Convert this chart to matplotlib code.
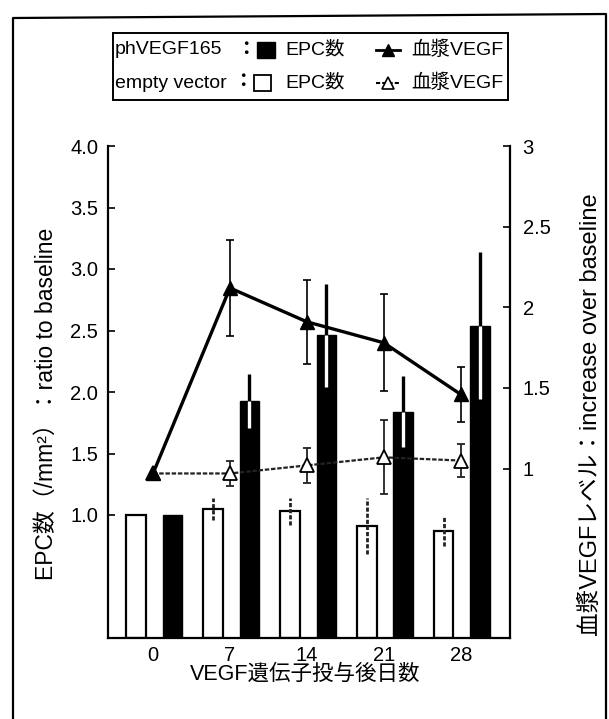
import matplotlib
matplotlib.use("Agg")
import matplotlib.pyplot as plt
from matplotlib.patches import Rectangle
from matplotlib.lines import Line2D
import numpy as np

plt.rcParams['font.family'] = ['Liberation Sans', 'Noto Sans CJK JP', 'DejaVu Sans']

days = ["0", "7", "14", "21", "28"]
# EPC count ratio (left axis)
epc_empty = [1.0, 1.05, 1.03, 0.91, 0.87]
epc_empty_err = [0.0, 0.09, 0.11, 0.23, 0.12]
epc_vegf = [1.0, 1.93, 2.46, 1.84, 2.54]
epc_vegf_err = [0.0, 0.22, 0.42, 0.29, 0.60]
# plasma VEGF increase (right axis)
pl_vegf = [0.97, 2.12, 1.91, 1.78, 1.46]
pl_vegf_err = [0.0, 0.30, 0.26, 0.30, 0.17]
pl_empty = [0.97, 0.97, 1.02, 1.07, 1.05]
pl_empty_err = [0.0, 0.08, 0.11, 0.23, 0.10]

left_ticks = [1.0, 1.5, 2.0, 2.5, 3.0, 3.5, 4.0]
right_ticks = [1, 1.5, 2, 2.5, 3]
right_ticklabels = ["1", "1.5", "2", "2.5", "3"]

W, H = 609, 719
fig = plt.figure(figsize=(W / 100, H / 100), dpi=100)

def fx(px):
    return px / W

def fy(py):
    return 1 - py / H

ax = fig.add_axes([fx(108), fy(638), fx(510) - fx(108), fy(146) - fy(638)])
ax2 = ax.twinx()

x = np.arange(len(days))
bw = 0.25
xw = x - 0.22
xb = x + 0.25

ax.bar(xw, epc_empty, width=bw, color='white', edgecolor='black', linewidth=1.6, zorder=2)
ax.bar(xb, epc_vegf, width=bw, color='black', edgecolor='black', linewidth=1.0, zorder=2)

for i in range(len(days)):
    if epc_empty_err[i] > 0:
        ax.vlines(xw[i], epc_empty[i] - epc_empty_err[i], epc_empty[i] + epc_empty_err[i],
                  colors='#222222', linewidth=2.0, linestyles=(0, (1.5, 0.7)), zorder=3)
    if epc_vegf_err[i] > 0:
        ax.vlines(xb[i], epc_vegf[i], epc_vegf[i] + epc_vegf_err[i],
                  colors='black', linewidth=2.4, zorder=3)
        ax.vlines(xb[i], epc_vegf[i] - epc_vegf_err[i], epc_vegf[i],
                  colors='white', linewidth=2.4, zorder=3)

ax.set_xlim(-0.585, 4.64)
ax.set_ylim(0, 4.0)
ax.set_yticks(left_ticks)
ax.set_yticklabels([f"{v:.1f}" for v in left_ticks])
ax.set_xticks(x)
ax.set_xticklabels(days)

ax2.set_ylim(-0.05, 3.0)
ax2.set_yticks(right_ticks)
ax2.set_yticklabels(right_ticklabels)

# plasma VEGF lines
ax2.errorbar(x, pl_empty, yerr=pl_empty_err, color='#222222', linewidth=1.6,
             linestyle=(0, (2.0, 0.8)), marker='^', markersize=10,
             markerfacecolor='white', markeredgecolor='black', markeredgewidth=1.3,
             ecolor='#222222', elinewidth=1.3, capsize=3, capthick=1.3, zorder=4)
ax2.errorbar(x, pl_vegf, yerr=pl_vegf_err, color='black', linewidth=2.4,
             marker='^', markersize=10, markerfacecolor='black', markeredgecolor='black',
             ecolor='black', elinewidth=1.2, capsize=3, capthick=1.2, zorder=5)

for a in (ax, ax2):
    a.spines['top'].set_visible(False)
    a.tick_params(direction='in', length=5, width=1.2, labelsize=14.5)
ax.spines['left'].set_linewidth(1.6)
ax.spines['bottom'].set_linewidth(1.6)
ax2.spines['right'].set_linewidth(1.6)
ax.spines['right'].set_visible(False)
ax2.spines['left'].set_visible(False)
ax2.spines['bottom'].set_visible(False)
ax.tick_params(axis='y', pad=7)
ax.tick_params(axis='x', length=0, pad=6)
ax2.tick_params(axis='y', pad=9)

# axis labels
fig.text(fx(46), fy(404), "EPC数（/mm²）：ratio to baseline", rotation=90,
         ha='center', va='center', fontsize=16.5)
fig.text(fx(591), fy(415), "血漿VEGFレベル：increase over baseline", rotation=90,
         ha='center', va='center', fontsize=17)
fig.text(fx(305), fy(674), "VEGF遺伝子投与後日数", ha='center', va='center', fontsize=15.5)

# legend box
fig.patches.append(Rectangle((fx(113), fy(100)), fx(508) - fx(113), fy(33) - fy(100),
                             transform=fig.transFigure, fill=False, edgecolor='black',
                             linewidth=1.4))
lfs = 14
r1, r2 = 50, 83
fig.text(fx(115), fy(r1), "phVEGF165", ha='left', va='center', fontsize=lfs)
fig.text(fx(246), fy(r1), "：", ha='center', va='center', fontsize=lfs, fontweight='bold')
fig.patches.append(Rectangle((fx(257), fy(r1 + 8)), fx(275) - fx(257), fy(r1 - 8) - fy(r1 + 8),
                             transform=fig.transFigure, facecolor='black', edgecolor='black'))
fig.text(fx(285), fy(r1), "EPC数", ha='left', va='center', fontsize=lfs)
fig.lines.append(Line2D([fx(376), fx(400)], [fy(r1), fy(r1)], transform=fig.transFigure,
                        color='black', linewidth=2.0, marker=None))
fig.lines.append(Line2D([fx(388)], [fy(r1)], transform=fig.transFigure, color='black',
                        marker='^', markersize=8, markerfacecolor='black'))
fig.text(fx(411), fy(r1), "血漿VEGF", ha='left', va='center', fontsize=lfs)

fig.text(fx(115), fy(r2), "empty vector", ha='left', va='center', fontsize=lfs)
fig.text(fx(243), fy(r2), "：", ha='center', va='center', fontsize=lfs, fontweight='bold')
fig.patches.append(Rectangle((fx(254), fy(r2 + 8)), fx(271) - fx(254), fy(r2 - 8) - fy(r2 + 8),
                             transform=fig.transFigure, facecolor='white', edgecolor='black',
                             linewidth=1.3))
fig.text(fx(285), fy(r2), "EPC数", ha='left', va='center', fontsize=lfs)
fig.lines.append(Line2D([fx(376), fx(400)], [fy(r2), fy(r2)], transform=fig.transFigure,
                        color='black', linewidth=1.5, linestyle=(0, (2, 1))))
fig.lines.append(Line2D([fx(388)], [fy(r2)], transform=fig.transFigure, color='black',
                        marker='^', markersize=8, markerfacecolor='white', markeredgewidth=1.2))
fig.text(fx(411), fy(r2), "血漿VEGF", ha='left', va='center', fontsize=lfs)

# outer frame
fig.lines.append(Line2D([fx(13), fx(13), fx(606), fx(606)], [fy(725), fy(18), fy(14), fy(725)],
                        transform=fig.transFigure, color='black', linewidth=1.6))

fig.savefig("out.png", dpi=100)
